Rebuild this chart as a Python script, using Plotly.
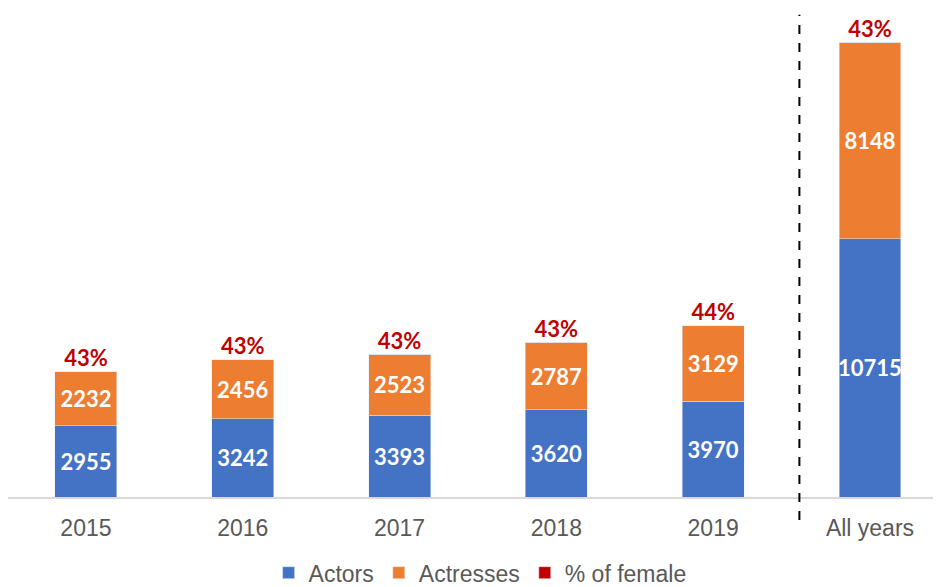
import plotly.graph_objects as go

years = ['2015', '2016', '2017', '2018', '2019', 'All years']
actors = [2955, 3242, 3393, 3620, 3970, 10715]
actresses = [2232, 2456, 2523, 2787, 3129, 8148]
pct_female = ['43%', '43%', '43%', '43%', '44%', '43%']

totals = [a + b for a, b in zip(actors, actresses)]

blue = '#4472C4'
orange = '#ED7D31'
red = '#C00000'
grey_text = '#595959'
label_font = dict(family='Lato, DejaVu Sans', size=22, color='white', weight='bold')

fig = go.Figure()
fig.add_trace(go.Bar(x=years, y=actors, name='Actors', marker_color=blue,
                     text=actors, textposition='inside', insidetextanchor='middle',
                     textangle=0, textfont=label_font))
fig.add_trace(go.Bar(x=years, y=actresses, name='Actresses', marker_color=orange,
                     text=actresses, textposition='inside', insidetextanchor='middle',
                     textangle=0, textfont=label_font))
# legend entry only
fig.add_trace(go.Bar(x=years, y=[0] * len(years), name='% of female',
                     marker_color=red, hoverinfo='skip'))
fig.add_trace(go.Scatter(x=years, y=totals, mode='text', text=pct_female,
                         textposition='top center', showlegend=False,
                         textfont=dict(family='Lato, DejaVu Sans', size=22,
                                       color=red, weight='bold')))

# dashed separator before "All years"
fig.add_shape(type='line', xref='x', yref='paper', x0=4.55, x1=4.55, y0=-0.047, y1=0.99,
              line=dict(color='black', width=2, dash='dash'))

fig.update_layout(
    width=941, height=587,
    barmode='stack', bargap=0.605,
    paper_bgcolor='white', plot_bgcolor='white',
    margin=dict(l=0, r=8, t=2, b=98, autoexpand=False),
    uniformtext=dict(minsize=22, mode='show'),
    font=dict(family='Liberation Sans, Arial', size=23, color=grey_text),
    legend=dict(orientation='h', x=0.506, xanchor='center', yref='container',
                y=0.038, yanchor='middle',
                font=dict(size=23, color=grey_text), itemwidth=30, traceorder='normal'),
    xaxis=dict(showline=True, linecolor='#D9D9D9', linewidth=2,
               ticks='outside', ticklen=9, tickcolor='rgba(0,0,0,0)',
               tickfont=dict(size=23, color=grey_text), showgrid=False,
               range=[-0.497, 5.453], automargin=False),
    yaxis=dict(visible=False, range=[0, 20190], showgrid=False, zeroline=False),
)

fig.write_html('out.html')
